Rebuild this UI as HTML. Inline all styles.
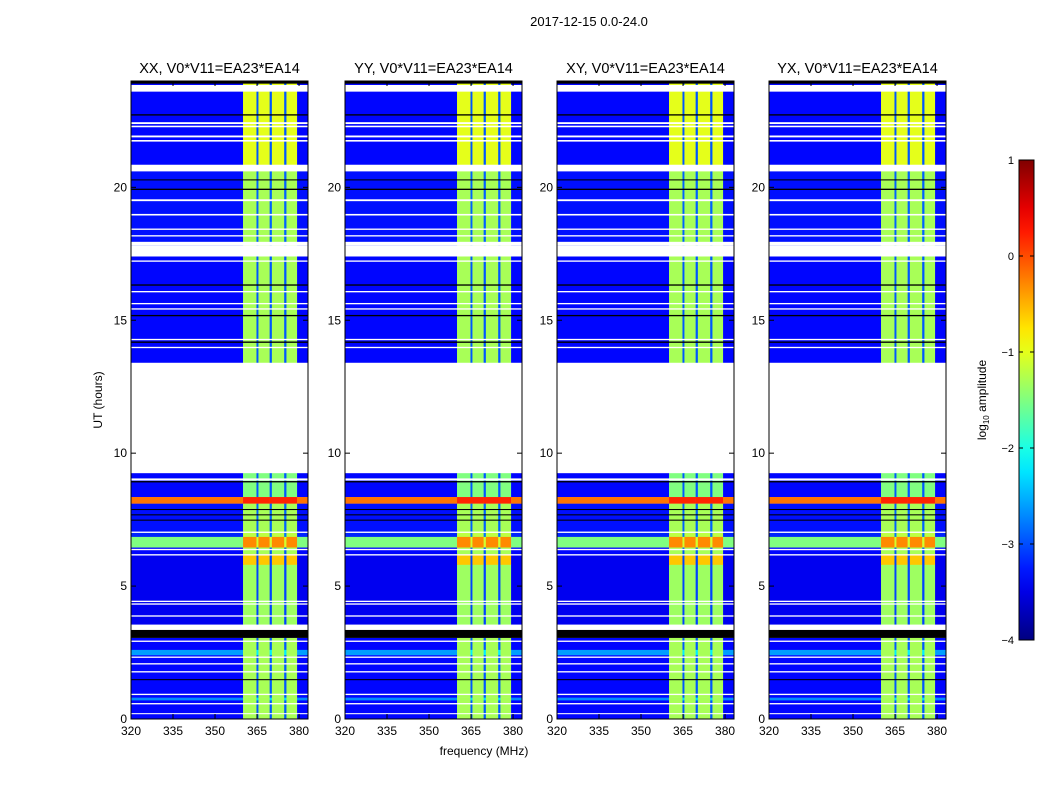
<!DOCTYPE html>
<html><head><meta charset="utf-8"><style>
body{margin:0;background:#fff;}
svg{display:block;font-family:"Liberation Sans","DejaVu Sans",sans-serif;}
</style></head><body>
<svg id="fig" width="1050" height="800">
<text x="589" y="26" font-size="13" text-anchor="middle">2017-12-15 0.0-24.0</text>
<text x="484" y="755" font-size="12" text-anchor="middle">frequency (MHz)</text>
<text x="102" y="400" font-size="12" text-anchor="middle" transform="rotate(-90 102 400)">UT (hours)</text>
<g id="panels"></g>
<g id="cbar"></g>
</svg>
<script>
// ---- data ----
var panelTitles = ["XX, V0*V11=EA23*EA14","YY, V0*V11=EA23*EA14","XY, V0*V11=EA23*EA14","YX, V0*V11=EA23*EA14"];
var xTicks = [320,335,350,365,380];
var yTicks = [0,5,10,15,20];
var cbarTicks = [1,0,-1,-2,-3,-4];
// frequency segments (MHz) and type: 0 background, 1 band, 2 stripe inside band
var freqStart = [320,360,364.8,365.5,369.5,370.3,374.7,375.5,379.3];
var freqEnd   = [360,364.8,365.5,369.5,370.3,374.7,375.5,379.3,383.2];
var freqType  = [0,1,2,1,2,1,2,1,0];
// data rows (hours): log amplitude outside band and inside band
var rowStart = [24.0,20.6,17.4,9.25,8.35,8.1,7.05,6.85,6.45,6.2,5.8,3.05,2.6,2.4,0.8,0.7];
var rowEnd   = [20.6,17.8,13.4,8.35,8.1,7.05,6.85,6.45,6.2,5.8,3.55,2.6,2.4,0.8,0.7,0.0];
var rowBg    = [-3.35,-3.3,-3.35,-3.35,-0.2,-3.3,-3.2,-1.5,-3.35,-3.45,-3.45,-3.35,-2.6,-3.35,-2.7,-3.35];
var rowBand  = [-1.0,-1.3,-1.3,-1.5,0.2,-1.3,-1.2,-0.3,-1.3,-0.6,-1.35,-1.3,-1.3,-1.3,-1.3,-1.3];
var stripeOffset = 0.4;
// flagged (blank) time ranges and black lines, hours
var whiteStart = [23.85,22.45,22.32,21.95,21.78,20.85,19.55,19.0,18.45,18.2,17.95,17.8,17.25,16.1,15.65,15.45,14.3,14.0,13.4,9.05,7.05,6.4,6.2,4.45,4.35,3.9,3.55,2.95,2.35,2.1,1.8,0.95,0.6,0.22];
var whiteEnd   = [23.6,22.38,22.26,21.88,21.72,20.6,19.48,18.94,18.4,18.15,17.8,17.4,17.2,16.05,15.6,15.4,14.25,13.95,9.25,8.97,7.0,6.35,6.15,4.4,4.3,3.85,3.4,2.9,2.3,2.05,1.75,0.9,0.55,0.18];
var blackStart = [24.0,22.75,20.3,19.95,16.35,15.2,14.2,8.95,7.9,7.7,7.5,3.35,1.5];
var blackEnd   = [23.9,22.7,20.26,19.9,16.3,15.15,14.15,8.9,7.86,7.66,7.46,3.05,1.46];
// ---- layout ----
var NS="http://www.w3.org/2000/svg";
var panelX=[131,345,557,769], PW=177, PT=81, PB=719;
var fmin=320, fmax=383.2, tmin=0, tmax=24;
function jet(v){var t=(v+4)/5;t=Math.max(0,Math.min(1,t));
 function c(x){return Math.round(255*Math.max(0,Math.min(1,x)));}
 return "rgb("+c(1.5-Math.abs(4*t-3))+","+c(1.5-Math.abs(4*t-2))+","+c(1.5-Math.abs(4*t-1))+")";}
function mk(tag,at,parent){var e=document.createElementNS(NS,tag);for(var k in at)e.setAttribute(k,at[k]);parent.appendChild(e);return e;}
var root=document.getElementById("panels");
panelX.forEach(function(x0,p){
 var xs=function(f){return x0+(f-fmin)/(fmax-fmin)*PW;};
 var ys=function(t){return PB-(t-tmin)/(tmax-tmin)*(PB-PT);};
 var g=mk("g",{},root);
 
 
 var hm=mk("g",{},g);
 
 
 for(var i=0;i<rowStart.length;i++){
  for(var j=0;j<freqStart.length;j++){
   var b=rowBg[i];
   var v = freqType[j]===0 ? b : (freqType[j]===1 ? rowBand[i] : Math.min(rowBand[i], b+stripeOffset));
   var y1=ys(rowStart[i]), y2=ys(rowEnd[i]);
   var r=mk("rect",{x:xs(freqStart[j]).toFixed(2),y:y1.toFixed(2),width:(xs(freqEnd[j])-xs(freqStart[j])+0.3).toFixed(2),height:(y2-y1+0.2).toFixed(2),fill:jet(v)},hm);
   
   
  }
 }
 for(var w=0;w<whiteStart.length;w++){
  var a=ys(whiteStart[w]), c2=ys(whiteEnd[w]);
  var wr=mk("rect",{x:x0,y:a.toFixed(2),width:PW,height:Math.max(1,c2-a).toFixed(2),fill:"#ffffff"},hm);
  
  
 }
 for(var k=0;k<blackStart.length;k++){
  var a2=ys(blackStart[k]), c3=ys(blackEnd[k]);
  var br=mk("rect",{x:x0,y:a2.toFixed(2),width:PW,height:Math.max(1,c3-a2).toFixed(2),fill:"#000000"},hm);
  
  
 }
 var fr=mk("rect",{x:x0,y:PT,width:PW,height:PB-PT,fill:"none",stroke:"#000","stroke-width":1},g);
 
 
 var tt=mk("text",{x:x0+PW/2,y:73,"font-size":14.5,"text-anchor":"middle"},g);tt.textContent=panelTitles[p];
 
 
 xTicks.forEach(function(f){var x=xs(f);
  mk("line",{x1:x,x2:x,y1:PB,y2:PB-5,stroke:"#000"},g);mk("line",{x1:x,x2:x,y1:PT,y2:PT+5,stroke:"#000"},g);
  var l=mk("text",{x:x,y:PB+16,"font-size":12,"text-anchor":"middle"},g);l.textContent=f;
  
  });
 yTicks.forEach(function(t){var y=ys(t);
  mk("line",{x1:x0,x2:x0+5,y1:y,y2:y,stroke:"#000"},g);mk("line",{x1:x0+PW,x2:x0+PW-5,y1:y,y2:y,stroke:"#000"},g);
  var l=mk("text",{x:x0-4,y:y+4,"font-size":12,"text-anchor":"end"},g);l.textContent=t;
  
  });
});
// colorbar
var cb=document.getElementById("cbar"), CX=1019, CW=15, CT=160, CB=640;
var defs=mk("defs",{},cb), gr=mk("linearGradient",{id:"jetg",x1:0,y1:1,x2:0,y2:0},defs);
for(var k=0;k<=20;k++){mk("stop",{offset:(k/20),"stop-color":jet(-4+5*k/20)},gr);}
var cr=mk("rect",{x:CX,y:CT,width:CW,height:CB-CT,fill:"url(#jetg)",stroke:"#000"},cb);


cbarTicks.forEach(function(v){var y=CB-(v+4)/5*(CB-CT);
 mk("line",{x1:CX,x2:CX+4,y1:y,y2:y,stroke:"#000"},cb);mk("line",{x1:CX+CW,x2:CX+CW-4,y1:y,y2:y,stroke:"#000"},cb);
 var l=mk("text",{x:CX-5,y:y+4,"font-size":11,"text-anchor":"end"},cb);l.textContent=(v<0?"\u2212"+(-v):v);
 
 });
var cl=mk("text",{x:986,y:400,"font-size":12,"text-anchor":"middle",transform:"rotate(-90 986 400)"},cb);
cl.innerHTML='log<tspan font-size="8" dy="3">10</tspan><tspan dy="-3"> amplitude</tspan>';


</script>
</body></html>
